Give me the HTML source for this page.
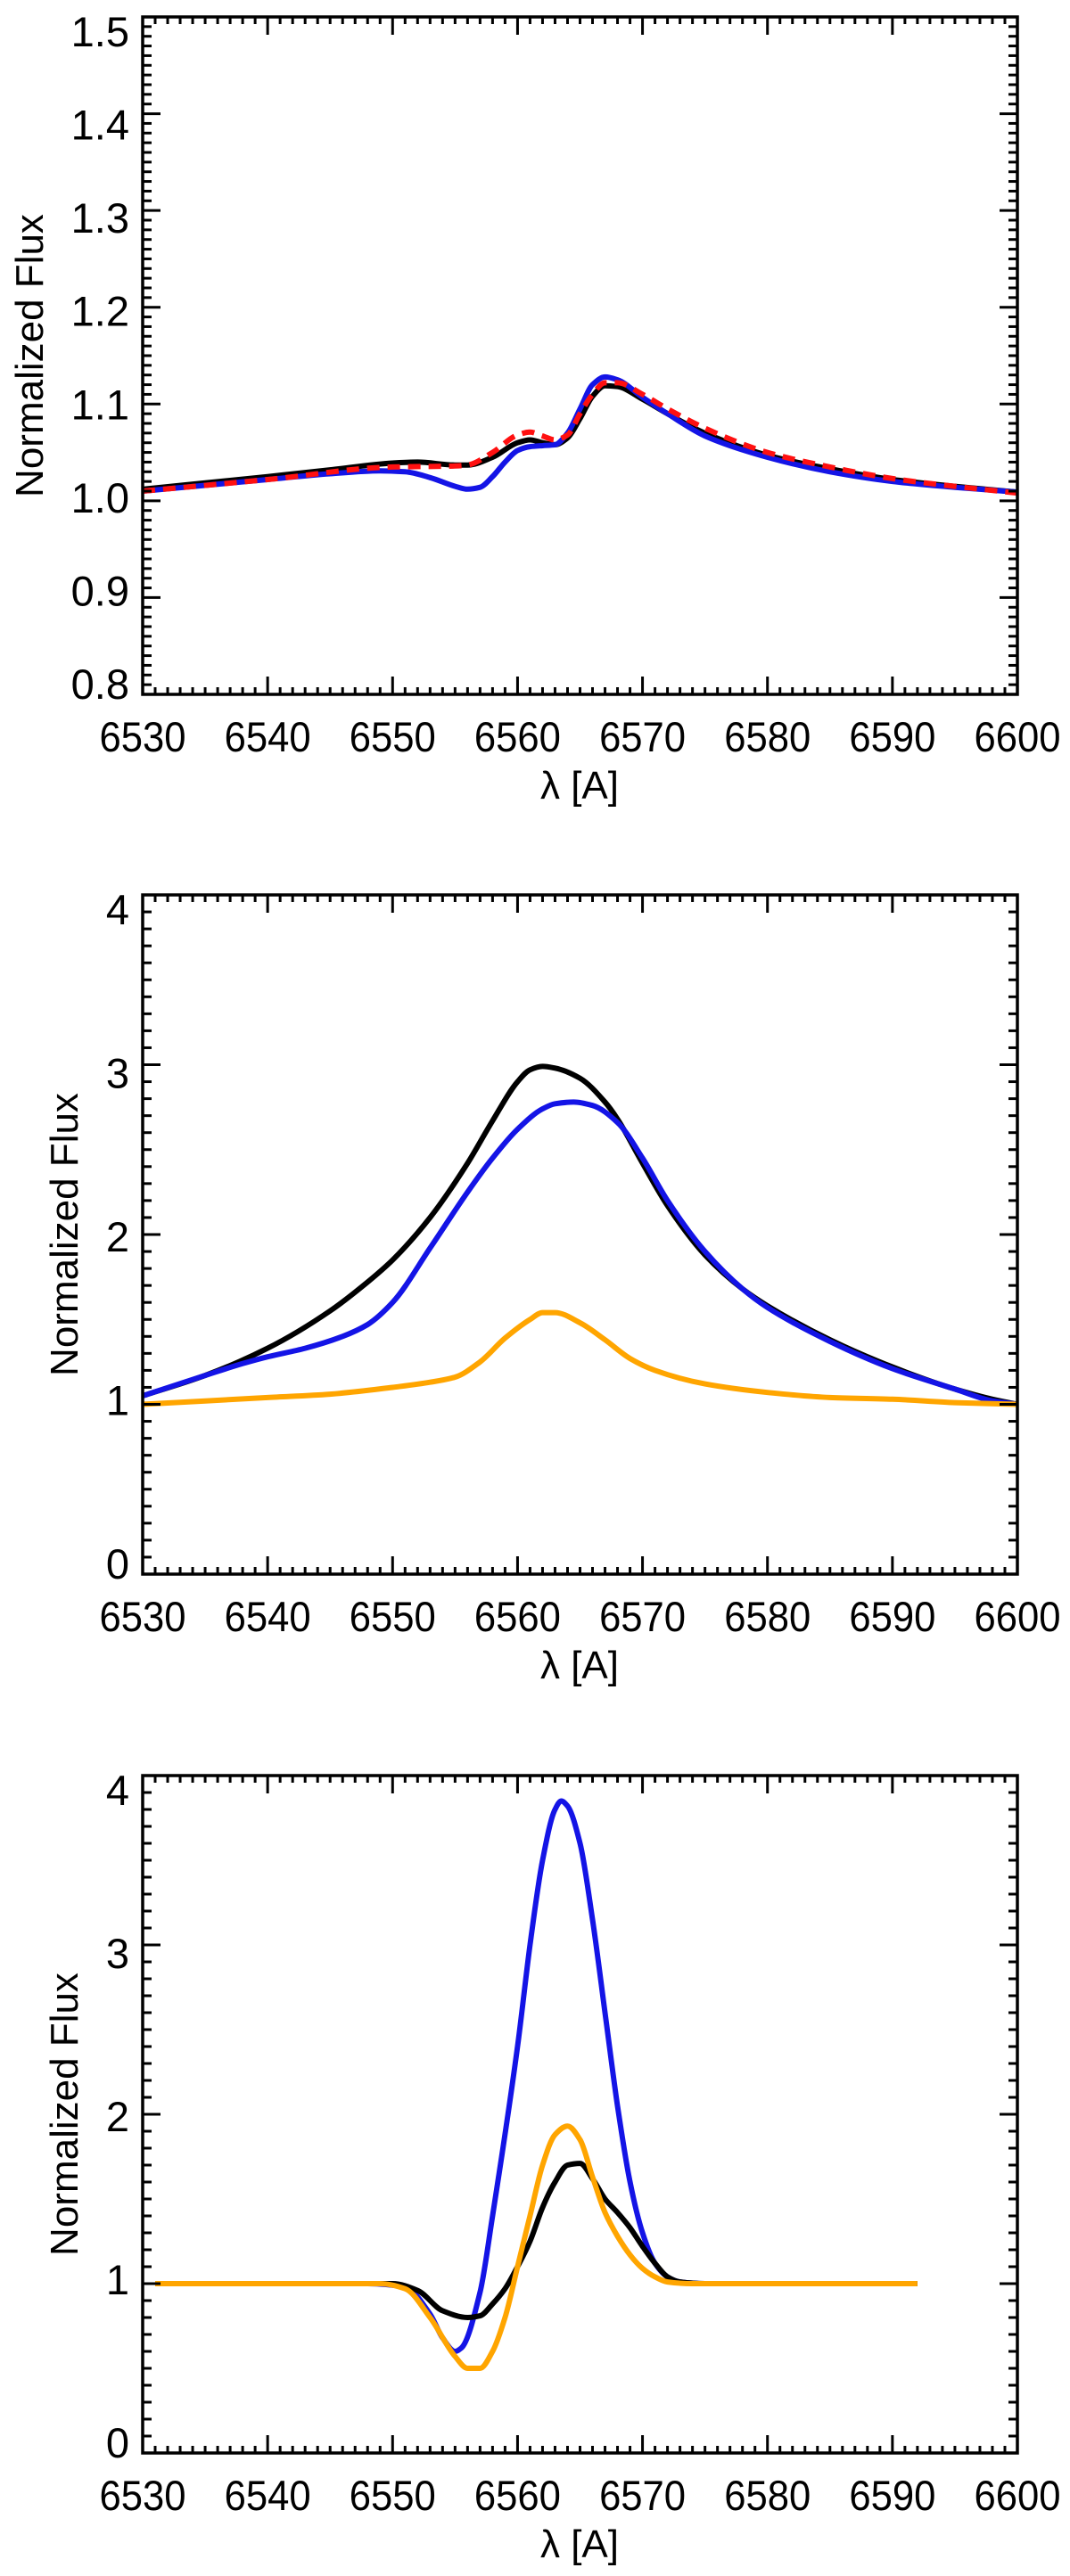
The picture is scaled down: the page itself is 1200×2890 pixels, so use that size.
<!DOCTYPE html>
<html><head><meta charset="utf-8"><style>
body{margin:0;background:#fff;}
svg{display:block;font-family:"Liberation Sans",sans-serif;}
</style></head><body>
<svg id="fig" width="1200" height="2890" viewBox="0 0 1200 2890"></svg>
<script>
// ---- Panel 1 data ----
const p1Black = [[6530,1.012],[6540,1.025],[6545,1.032],[6550,1.039],[6552,1.040],[6555,1.037],[6556,1.037],[6558,1.045],[6560,1.060],[6561,1.063],[6562,1.060],[6563,1.058],[6564,1.065],[6565,1.085],[6566,1.108],[6567,1.119],[6568,1.118],[6570,1.105],[6572,1.09],[6575,1.07],[6580,1.047],[6585,1.033],[6590,1.022],[6595,1.015],[6600,1.009]];
const p1Blue = [[6530,1.010],[6540,1.022],[6545,1.028],[6549,1.031],[6551,1.030],[6553,1.024],[6555,1.015],[6556,1.012],[6557,1.014],[6558,1.025],[6559,1.040],[6560,1.052],[6561,1.056],[6562,1.057],[6563,1.058],[6564,1.07],[6565,1.095],[6566,1.12],[6567,1.128],[6568,1.125],[6570,1.107],[6572,1.09],[6575,1.067],[6580,1.045],[6585,1.030],[6590,1.02],[6595,1.014],[6600,1.009]];
const p1Red = [[6530,1.010],[6540,1.022],[6550,1.035],[6555,1.036],[6556,1.037],[6558,1.05],[6560,1.068],[6561,1.071],[6562,1.067],[6563,1.063],[6564,1.068],[6565,1.09],[6566,1.11],[6567,1.122],[6568,1.122],[6570,1.11],[6572,1.095],[6575,1.075],[6580,1.05],[6585,1.035],[6590,1.023],[6595,1.015],[6600,1.008]];
const p1YTicks = ["0.8","0.9","1.0","1.1","1.2","1.3","1.4","1.5"];
// ---- Panel 2 data ----
const p2Black = [[6530,1.05],[6535,1.17],[6540,1.33],[6545,1.55],[6548,1.72],[6550,1.85],[6553,2.1],[6556,2.42],[6558,2.67],[6560,2.9],[6561,2.97],[6562,2.99],[6563,2.98],[6565,2.92],[6567,2.78],[6568,2.68],[6570,2.42],[6572,2.17],[6575,1.88],[6578,1.68],[6580,1.58],[6585,1.38],[6590,1.22],[6595,1.09],[6598,1.03],[6600,1.0]];
const p2Blue = [[6530,1.05],[6535,1.17],[6538,1.24],[6540,1.28],[6543,1.33],[6546,1.4],[6548,1.47],[6550,1.6],[6553,1.92],[6556,2.25],[6558,2.45],[6560,2.62],[6562,2.74],[6563,2.77],[6564.5,2.78],[6566,2.76],[6568,2.66],[6570,2.45],[6572,2.2],[6575,1.9],[6578,1.68],[6580,1.57],[6585,1.37],[6590,1.21],[6595,1.09],[6598,1.02],[6600,1.0]];
const p2Orange = [[6530,1.0],[6540,1.04],[6545,1.06],[6550,1.10],[6553,1.13],[6555,1.16],[6557,1.25],[6559,1.39],[6561,1.5],[6562,1.54],[6563,1.54],[6565,1.48],[6567,1.38],[6569,1.27],[6571,1.2],[6575,1.12],[6580,1.07],[6585,1.04],[6590,1.03],[6595,1.01],[6600,1.0]];
const p2YTicks = ["0","1","2","3","4"];
// ---- Panel 3 data ----
const p3Blue = [[6531,1.0],[6548,1.0],[6551,0.98],[6553,0.82],[6554,0.68],[6555,0.6],[6555.5,0.62],[6557,0.95],[6558,1.4],[6560,2.4],[6561,3.0],[6562,3.5],[6563,3.8],[6563.5,3.85],[6564,3.82],[6565,3.6],[6566,3.15],[6567,2.6],[6568,2.05],[6569,1.6],[6570,1.3],[6571,1.12],[6572,1.04],[6573,1.01],[6575,1.0],[6592,1.0]];
const p3Black = [[6531,1.0],[6550,1.0],[6552,0.96],[6554,0.84],[6556,0.8],[6557,0.81],[6558,0.88],[6559,0.97],[6560,1.1],[6561,1.25],[6562,1.45],[6563,1.6],[6564,1.7],[6565,1.71],[6566,1.62],[6567,1.5],[6568,1.42],[6569,1.33],[6570,1.22],[6571,1.12],[6572,1.04],[6573,1.01],[6575,1.0],[6592,1.0]];
const p3Orange = [[6531,1.0],[6549,1.0],[6551,0.97],[6553,0.8],[6555,0.57],[6556,0.5],[6557,0.5],[6558,0.6],[6559,0.8],[6560,1.1],[6561,1.4],[6562,1.7],[6563,1.88],[6564,1.93],[6565,1.85],[6566,1.63],[6567,1.42],[6568,1.28],[6569,1.17],[6570,1.09],[6571,1.04],[6572,1.01],[6574,1.0],[6592,1.0]];
const p3YTicks = ["0","1","2","3","4"];
const xTicks = ["6530","6540","6550","6560","6570","6580","6590","6600"];

const NS="http://www.w3.org/2000/svg";
const svg=document.getElementById('fig');
function mk(tag,attrs,parent){const e=document.createElementNS(NS,tag);for(const k in attrs)e.setAttribute(k,attrs[k]);(parent||svg).appendChild(e);return e;}

// monotone cubic (Fritsch-Carlson) path through points sorted by x
function monoPath(pts){
  const n=pts.length,dx=[],dy=[],m=[],t=new Array(n);
  for(let i=0;i<n-1;i++){dx[i]=pts[i+1][0]-pts[i][0];dy[i]=pts[i+1][1]-pts[i][1];m[i]=dy[i]/dx[i];}
  t[0]=m[0];t[n-1]=m[n-2];
  for(let i=1;i<n-1;i++){
    if(m[i-1]*m[i]<=0)t[i]=0;
    else{const w1=2*dx[i]+dx[i-1],w2=dx[i]+2*dx[i-1];t[i]=(w1+w2)/(w1/m[i-1]+w2/m[i]);}
  }
  let d='M'+pts[0][0].toFixed(1)+','+pts[0][1].toFixed(1);
  for(let i=0;i<n-1;i++){
    const h=dx[i]/3;
    d+=' C'+(pts[i][0]+h).toFixed(1)+','+(pts[i][1]+t[i]*h).toFixed(1)+' '+(pts[i+1][0]-h).toFixed(1)+','+(pts[i+1][1]-t[i+1]*h).toFixed(1)+' '+pts[i+1][0].toFixed(1)+','+pts[i+1][1].toFixed(1);
  }
  return d;
}

function panel(idx,top,bottom,ymin,ymax,yMinor,yTicks,series,titleX){
  const L=160,R=1141;
  const g=mk('g',{});
  
  
  const sx=v=>L+(v-6530)/(70)*(R-L);
  const sy=v=>bottom-(v-ymin)/(ymax-ymin)*(bottom-top);
  series.forEach(s=>{
    const pts=s.data.map(p=>[sx(p[0]),sy(p[1])]);
    const a={d:monoPath(pts),fill:'none',stroke:s.color,'stroke-width':6,'stroke-linejoin':'round'};
    if(s.dash)a['stroke-dasharray']=s.dash;
    const path=mk('path',a,g);
    
    
  });
  const tg=mk('g',{stroke:'#000','stroke-width':3},g);
  
  
  for(let v=6530;v<=6600;v++){
    const x=sx(v),len=(v%10===0)?20:8;
    mk('line',{x1:x,y1:bottom,x2:x,y2:bottom-len},tg);
    mk('line',{x1:x,y1:top,x2:x,y2:top+len},tg);
  }
  const nMinor=Math.round((ymax-ymin)/yMinor);
  const perMajor=Math.round((ymax-ymin)/(yTicks.length-1)/yMinor);
  for(let i=0;i<=nMinor;i++){
    const y=sy(ymin+i*yMinor),len=(i%perMajor===0)?20:10;
    mk('line',{x1:L,y1:y,x2:L+len,y2:y},tg);
    mk('line',{x1:R,y1:y,x2:R-len,y2:y},tg);
  }
  const frame=mk('rect',{x:L,y:top,width:R-L,height:bottom-top,fill:'none',stroke:'#000','stroke-width':3.5},g);
  
  
  xTicks.forEach((t,i)=>{
    const tx=mk('text',{x:sx(+t),y:bottom+64,'font-size':47,'text-anchor':'middle',textLength:97,lengthAdjust:'spacingAndGlyphs',fill:'#000'},g);
    tx.textContent=t;
    
    
  });
  const n=yTicks.length;
  yTicks.forEach((t,i)=>{
    const cy=(bottom-12)-(i/(n-1))*((bottom-12)-(top+16));
    const tx=mk('text',{x:145,y:cy+17,'font-size':47,'text-anchor':'end',fill:'#000'},g);
    tx.textContent=t;
    
    
  });
  const xt=mk('text',{x:650,y:bottom+117,'font-size':44,'text-anchor':'middle',fill:'#000'},g);
  xt.textContent='λ [A]';
  
  
  const cyT=(top+bottom)/2;
  const yt=mk('text',{x:titleX,y:cyT,'font-size':44,'text-anchor':'middle',transform:'rotate(-90 '+titleX+' '+cyT+')',fill:'#000'},g);
  yt.textContent='Normalized Flux';
  
  
}
panel(1,19,779,0.8,1.5,0.01,p1YTicks,[
  {name:'series-black',color:'#000',data:p1Black},
  {name:'series-blue',color:'#1414e6',data:p1Blue},
  {name:'series-red-dashed',color:'#ff1010',data:p1Red,dash:'14 9'}
],48);
panel(2,1004,1766,0,4,0.1,p2YTicks,[
  {name:'series-black',color:'#000',data:p2Black},
  {name:'series-blue',color:'#1414e6',data:p2Blue},
  {name:'series-orange',color:'#ffa500',data:p2Orange}
],87);
panel(3,1992,2752,0,4,0.1,p3YTicks,[
  {name:'series-blue',color:'#1414e6',data:p3Blue},
  {name:'series-black',color:'#000',data:p3Black},
  {name:'series-orange',color:'#ffa500',data:p3Orange}
],87);
</script>
</body></html>
